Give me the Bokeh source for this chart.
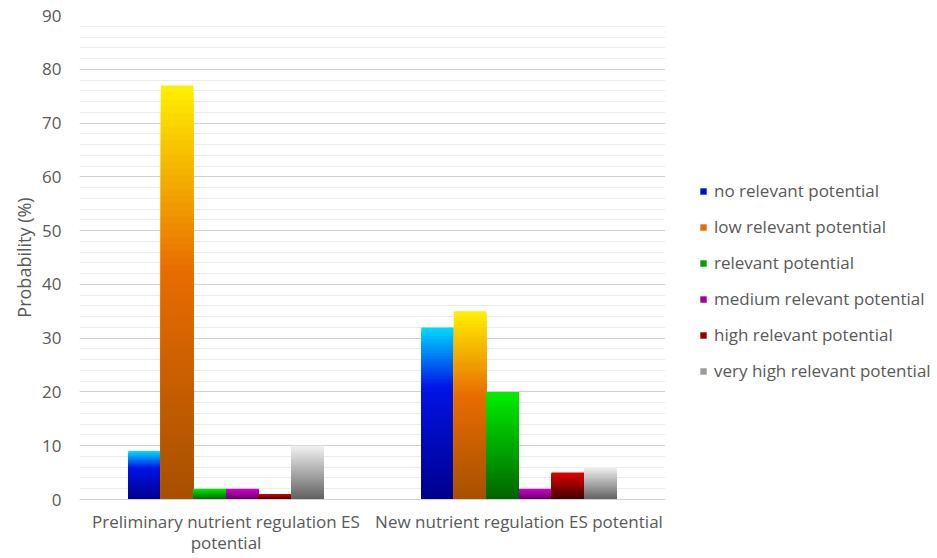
import numpy as np
from bokeh.plotting import figure
from bokeh.layouts import row
from bokeh.models import ColumnDataSource, Legend, LegendItem, FixedTicker, Range1d, SingleIntervalTicker
from bokeh.embed import file_html
from bokeh.resources import INLINE

# ---- data ----
categories = ["Preliminary nutrient regulation ES\npotential", "New nutrient regulation ES potential"]
series_names = ["no relevant potential", "low relevant potential", "relevant potential",
                "medium relevant potential", "high relevant potential", "very high relevant potential"]
no_relevant = [9, 32]
low_relevant = [77, 35]
relevant = [2, 20]
medium_relevant = [2, 2]
high_relevant = [1, 5]
very_high_relevant = [10, 6]
y_ticks = [0, 10, 20, 30, 40, 50, 60, 70, 80, 90]

series_values = [no_relevant, low_relevant, relevant, medium_relevant, high_relevant, very_high_relevant]

# gradient stops (position from top 0 -> bottom 1, colour)
gradients = [
    [(0.0, "#00dcff"), (0.35, "#0014e6"), (1.0, "#00008c")],
    [(0.0, "#fff000"), (0.45, "#e86c00"), (1.0, "#a65000")],
    [(0.0, "#00ee00"), (1.0, "#006400")],
    [(0.0, "#d200d2"), (1.0, "#640064")],
    [(0.0, "#e00000"), (1.0, "#400000")],
    [(0.0, "#f2f2f2"), (1.0, "#606060")],
]
legend_colors = ["#0010d0", "#e07000", "#00a000", "#a000a0", "#900000", "#9a9a9a"]

TEXT = "#595959"
FONT = "Open Sans"
FS = "17px"


def hex2rgb(h):
    h = h.lstrip("#")
    return np.array([int(h[i:i + 2], 16) for i in (0, 2, 4)], dtype=float)


def grad_color(stops, t):
    for (p0, c0), (p1, c1) in zip(stops[:-1], stops[1:]):
        if p0 <= t <= p1:
            f = (t - p0) / (p1 - p0) if p1 > p0 else 0
            c = hex2rgb(c0) * (1 - f) + hex2rgb(c1) * f
            return "#%02x%02x%02x" % tuple(int(round(v)) for v in c)
    return stops[-1][1]


H = 556
W1 = 665
W2 = 935 - W1
p = figure(width=W1, height=H, x_range=Range1d(0, 2), y_range=Range1d(0, 90),
           output_backend="svg", toolbar_location=None,
           min_border_left=79, min_border_right=0, min_border_top=15, min_border_bottom=H - 500)
p.outline_line_color = None
p.background_fill_color = "white"

N = 60
n_series = len(series_values)
group_w = 2.0 / 3.0
bar_w = group_w / n_series

for s, (vals, stops) in enumerate(zip(series_values, gradients)):
    left, right, bottom, top, color = [], [], [], [], []
    for c, v in enumerate(vals):
        center = c + 0.5
        l = center - group_w / 2 + s * bar_w
        # tallest slice first, shorter ones painted over it -> seamless gradient
        for k in range(N - 1, -1, -1):
            t = 1 - (k + 0.5) / N
            left.append(l)
            right.append(l + bar_w)
            bottom.append(0)
            top.append(v * (k + 1) / N)
            color.append(grad_color(stops, t))
    src = ColumnDataSource(dict(left=left, right=right, bottom=bottom, top=top, color=color))
    p.quad(left="left", right="right", bottom="bottom", top="top", source=src,
           fill_color="color", line_color=None)

# axes
p.xaxis.ticker = FixedTicker(ticks=[0.5, 1.5])
p.xaxis.major_label_overrides = {0.5: categories[0], 1.5: categories[1]}
p.xaxis.major_tick_line_color = None
p.xaxis.minor_tick_line_color = None
p.xaxis.major_tick_out = 0
p.xaxis.minor_tick_out = 0
p.xaxis.axis_line_color = "#d0d0d0"
p.xaxis.major_label_text_font = FONT
p.xaxis.major_label_text_font_size = FS
p.xaxis.major_label_text_color = TEXT
p.xaxis.major_label_text_line_height = 0.92
p.xaxis.major_label_standoff = 10
p.xgrid.grid_line_color = None

p.yaxis.ticker = SingleIntervalTicker(interval=10, num_minor_ticks=5)
p.yaxis.axis_line_color = None
p.yaxis.major_tick_line_color = None
p.yaxis.minor_tick_line_color = None
p.yaxis.major_tick_out = 0
p.yaxis.minor_tick_out = 0
p.yaxis.major_label_text_font = FONT
p.yaxis.major_label_text_font_size = FS
p.yaxis.major_label_text_color = TEXT
p.yaxis.major_label_standoff = 18
p.yaxis.axis_label = "Probability (%)"
p.yaxis.axis_label_text_font = FONT
p.yaxis.axis_label_text_font_size = "18px"
p.yaxis.axis_label_text_font_style = "normal"
p.yaxis.axis_label_text_color = TEXT
p.yaxis.axis_label_standoff = 3

p.ygrid.grid_line_color = "#d0d0d0"
p.ygrid.grid_line_width = 1.2
p.ygrid.minor_grid_line_color = "#ebebeb"
p.ygrid.minor_grid_line_width = 1

# legend panel (separate small figure to the right of the plot)
lp = figure(width=W2, height=H, x_range=Range1d(0, 1), y_range=Range1d(0, 1),
            output_backend="svg", toolbar_location=None,
            x_axis_location=None, y_axis_location=None,
            min_border_left=0, min_border_right=0, min_border_top=0, min_border_bottom=0)
lp.outline_line_color = None
lp.xgrid.grid_line_color = None
lp.ygrid.grid_line_color = None

legend_items = []
for s, name in enumerate(series_names):
    # legend proxy glyph, placed outside the visible range
    r = lp.quad(left=[-10], right=[-9], bottom=[-10], top=[-9],
                fill_color=legend_colors[s], line_color=None)
    legend_items.append(LegendItem(label=name, renderers=[r]))

legend = Legend(items=legend_items, location=(34, 117))
legend.border_line_color = None
legend.background_fill_alpha = 0
legend.padding = 0
legend.margin = 0
legend.glyph_width = 8
legend.glyph_height = 8
legend.label_standoff = 7
legend.label_height = 23
legend.spacing = 13
legend.label_text_font = FONT
legend.label_text_font_size = FS
legend.label_text_color = TEXT
lp.add_layout(legend, "center")

layout = row(p, lp)
open("out.html", "w").write(file_html(layout, INLINE))
